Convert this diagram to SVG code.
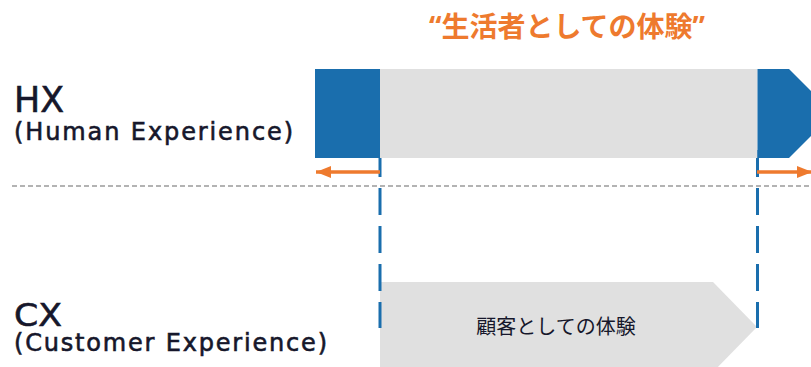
<svg xmlns="http://www.w3.org/2000/svg" width="811" height="367" viewBox="0 0 811 367">
<style>
.lbl{font-family:"DejaVu Sans","Noto Sans CJK JP",sans-serif;fill:#16172b;stroke:#16172b;stroke-width:0.6}
.cjk{font-family:"Noto Sans CJK JP",sans-serif}
.blue{fill:#1a6ead}
.gray{fill:#e0e0e0}
.vdash{stroke:#1a6ead;stroke-width:3;stroke-dasharray:27 11;fill:none}
.orange{stroke:#ee7a2e;stroke-width:3.5;fill:none}
</style>
<defs>
<marker id="ah" markerUnits="userSpaceOnUse" markerWidth="16" markerHeight="14" refX="15" refY="7" orient="auto">
<polygon points="0,1 15,7 0,13" fill="#ee7a2e"/>
</marker>
</defs>
<rect width="811" height="367" fill="#ffffff"/>
<g id="title">
<text x="567" y="37" text-anchor="middle" font-family="'Noto Sans','Noto Sans CJK JP',sans-serif" font-size="28" font-weight="700" fill="#ee7a2e">“生活者としての体験”</text>
</g>
<g id="hx-label">
<text class="lbl" x="14" y="112" font-size="36" textLength="50" lengthAdjust="spacingAndGlyphs">HX</text>
<text class="lbl" x="14" y="140" font-size="24" textLength="279" lengthAdjust="spacing">(Human Experience)</text>
</g>
<g id="cx-label">
<text class="lbl" x="14" y="326" font-size="32" textLength="48" lengthAdjust="spacingAndGlyphs">CX</text>
<text class="lbl" x="14" y="351" font-size="24" textLength="313" lengthAdjust="spacing">(Customer Experience)</text>
</g>
<g id="cx-bar">
<polygon class="gray" points="380,282 713,282 757,327 713,372 380,372"/>
<text class="cjk" x="556" y="334" text-anchor="middle" font-size="20" fill="#16172b">顧客としての体験</text>
</g>
<g id="connectors">
<line x1="12" y1="186" x2="811" y2="186" stroke="#9a9a9a" stroke-width="1.3" stroke-dasharray="5 3"/>
<line class="vdash" x1="380" y1="150" x2="380" y2="328"/>
<line class="vdash" x1="757.5" y1="150" x2="757.5" y2="328"/>
<line class="orange" x1="380" y1="172" x2="316" y2="172" marker-end="url(#ah)"/>
<line class="orange" x1="757" y1="172" x2="812" y2="172" marker-end="url(#ah)"/>
</g>
<g id="hx-bar">
<rect class="blue" x="315" y="69" width="66" height="89"/>
<rect class="gray" x="380" y="69" width="377.5" height="89"/>
<polygon class="blue" points="757.5,69 789,69 833.5,113.5 789,158 757.5,158"/>
</g>
</svg>
